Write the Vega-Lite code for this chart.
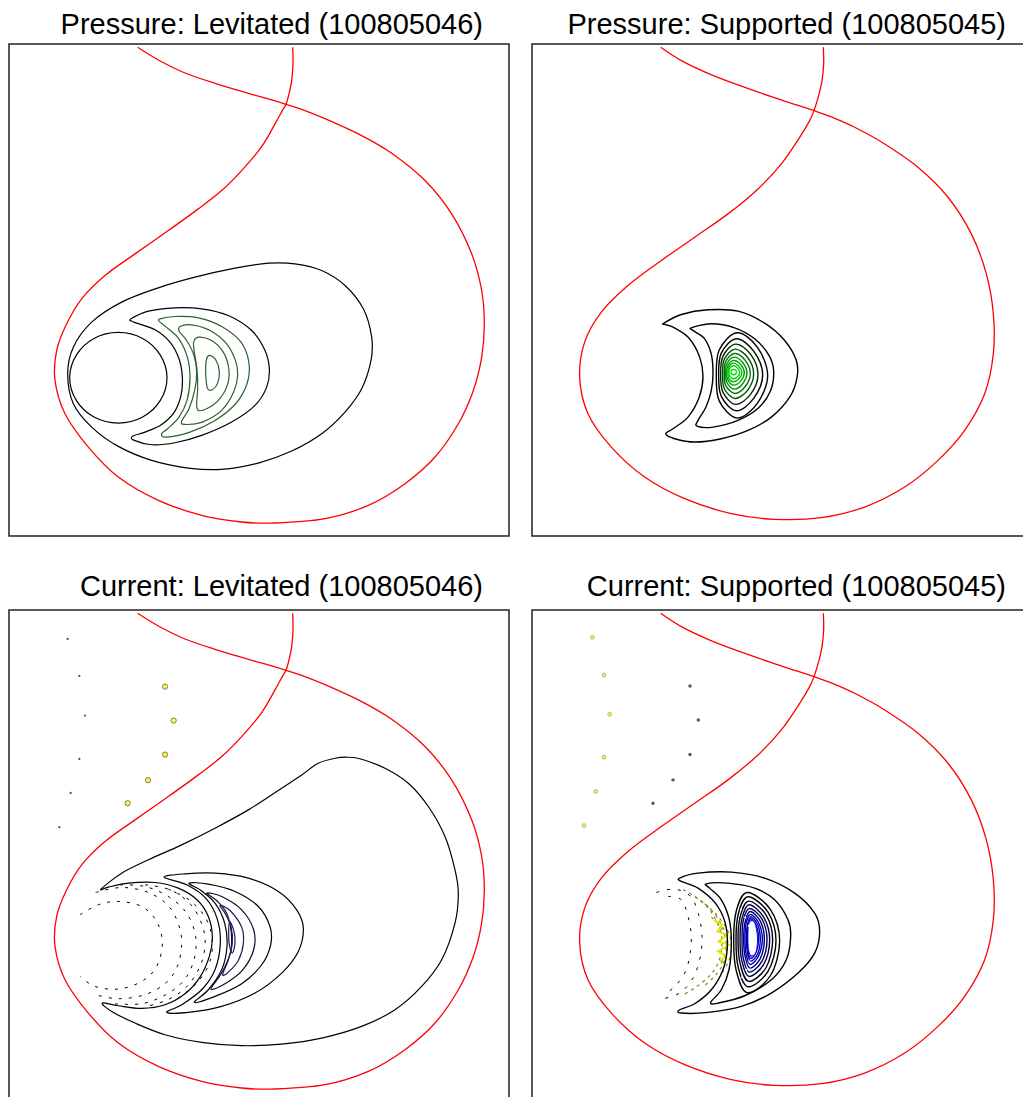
{
"$schema": "https://vega.github.io/schema/vega-lite/v6.json",
"background": "white",
"padding": {"left": 8, "top": 10, "right": 0, "bottom": 0},
"config": {"view": {"stroke": "#222", "strokeWidth": 1.5}, "title": {"font": "Liberation Sans", "fontSize": 29, "fontWeight": "normal", "color": "#000", "anchor": "end", "dx": -26}},
"spacing": 35,
"resolve": {"scale": {"color": "independent", "x": "independent", "y": "independent"}},
"datasets": {
"sepL": [{"x":388,"y":20},{"x":450,"y":58},{"x":530,"y":97},{"x":620,"y":128},{"x":720,"y":158},{"x":790,"y":178},{"x":833,"y":191},{"x":880,"y":206},{"x":950,"y":234},{"x":1050,"y":280},{"x":1150,"y":338},{"x":1250,"y":420},{"x":1330,"y":520},{"x":1390,"y":640},{"x":1420,"y":750},{"x":1428,"y":850},{"x":1420,"y":950},{"x":1395,"y":1050},{"x":1350,"y":1150},{"x":1280,"y":1250},{"x":1190,"y":1330},{"x":1080,"y":1395},{"x":950,"y":1435},{"x":800,"y":1448},{"x":700,"y":1445},{"x":580,"y":1425},{"x":450,"y":1380},{"x":330,"y":1310},{"x":240,"y":1220},{"x":170,"y":1120},{"x":140,"y":1020},{"x":145,"y":930},{"x":175,"y":850},{"x":220,"y":775},{"x":290,"y":705},{"x":380,"y":640},{"x":480,"y":570},{"x":570,"y":505},{"x":640,"y":450},{"x":700,"y":390},{"x":760,"y":318},{"x":800,"y":250},{"x":822,"y":210},{"x":833,"y":191},{"x":842,"y":160},{"x":850,"y":120},{"x":854,"y":70},{"x":853,"y":20}],
"sepR": [{"x":388,"y":20},{"x":450,"y":60},{"x":530,"y":98},{"x":620,"y":133},{"x":720,"y":168},{"x":800,"y":194},{"x":848,"y":210},{"x":900,"y":229},{"x":970,"y":260},{"x":1060,"y":310},{"x":1160,"y":380},{"x":1250,"y":470},{"x":1320,"y":580},{"x":1365,"y":700},{"x":1386,"y":820},{"x":1386,"y":940},{"x":1360,"y":1060},{"x":1300,"y":1170},{"x":1220,"y":1260},{"x":1120,"y":1340},{"x":1000,"y":1400},{"x":870,"y":1432},{"x":730,"y":1437},{"x":600,"y":1420},{"x":460,"y":1375},{"x":340,"y":1310},{"x":240,"y":1220},{"x":170,"y":1120},{"x":145,"y":1010},{"x":160,"y":905},{"x":210,"y":815},{"x":290,"y":735},{"x":390,"y":660},{"x":490,"y":590},{"x":590,"y":520},{"x":680,"y":445},{"x":750,"y":370},{"x":805,"y":290},{"x":835,"y":240},{"x":848,"y":210},{"x":862,"y":165},{"x":872,"y":120},{"x":877,"y":70},{"x":876,"y":20}],
"c1": [
{"id":"A","lev":0,"x":178,"y":1000},{"id":"A","lev":0,"x":195,"y":920},{"id":"A","lev":0,"x":250,"y":845},{"id":"A","lev":0,"x":340,"y":785},{"id":"A","lev":0,"x":450,"y":742},{"id":"A","lev":0,"x":560,"y":710},{"id":"A","lev":0,"x":680,"y":683},{"id":"A","lev":0,"x":780,"y":668},{"id":"A","lev":0,"x":860,"y":670},{"id":"A","lev":0,"x":940,"y":690},{"id":"A","lev":0,"x":1010,"y":735},{"id":"A","lev":0,"x":1065,"y":805},{"id":"A","lev":0,"x":1090,"y":890},{"id":"A","lev":0,"x":1088,"y":960},{"id":"A","lev":0,"x":1060,"y":1045},{"id":"A","lev":0,"x":1010,"y":1115},{"id":"A","lev":0,"x":940,"y":1180},{"id":"A","lev":0,"x":850,"y":1232},{"id":"A","lev":0,"x":750,"y":1268},{"id":"A","lev":0,"x":640,"y":1287},{"id":"A","lev":0,"x":540,"y":1283},{"id":"A","lev":0,"x":430,"y":1260},{"id":"A","lev":0,"x":330,"y":1218},{"id":"A","lev":0,"x":250,"y":1160},{"id":"A","lev":0,"x":195,"y":1090},
{"id":"B","lev":0,"x":476,"y":1012},{"id":"B","lev":0,"x":456,"y":944},{"id":"B","lev":0,"x":403,"y":894},{"id":"B","lev":0,"x":330,"y":876},{"id":"B","lev":0,"x":257,"y":894},{"id":"B","lev":0,"x":204,"y":944},{"id":"B","lev":0,"x":184,"y":1012},{"id":"B","lev":0,"x":204,"y":1080},{"id":"B","lev":0,"x":257,"y":1130},{"id":"B","lev":0,"x":330,"y":1148},{"id":"B","lev":0,"x":403,"y":1130},{"id":"B","lev":0,"x":456,"y":1080},
{"id":"C","lev":0,"x":368,"y":835},{"id":"C","lev":0,"x":420,"y":812},{"id":"C","lev":0,"x":500,"y":802},{"id":"C","lev":0,"x":580,"y":805},{"id":"C","lev":0,"x":660,"y":825},{"id":"C","lev":0,"x":730,"y":870},{"id":"C","lev":0,"x":770,"y":930},{"id":"C","lev":0,"x":783,"y":985},{"id":"C","lev":0,"x":775,"y":1040},{"id":"C","lev":0,"x":740,"y":1095},{"id":"C","lev":0,"x":670,"y":1145},{"id":"C","lev":0,"x":580,"y":1185},{"id":"C","lev":0,"x":500,"y":1207},{"id":"C","lev":0,"x":430,"y":1213},{"id":"C","lev":0,"x":378,"y":1200},{"id":"C","lev":0,"x":372,"y":1188},{"id":"C","lev":0,"x":410,"y":1175},{"id":"C","lev":0,"x":460,"y":1152},{"id":"C","lev":0,"x":498,"y":1115},{"id":"C","lev":0,"x":518,"y":1065},{"id":"C","lev":0,"x":522,"y":1010},{"id":"C","lev":0,"x":512,"y":955},{"id":"C","lev":0,"x":485,"y":905},{"id":"C","lev":0,"x":440,"y":868},{"id":"C","lev":0,"x":385,"y":848},{"id":"C","lev":0,"x":370,"y":842},
{"id":"D","lev":1,"x":455,"y":835},{"id":"D","lev":1,"x":500,"y":828},{"id":"D","lev":1,"x":570,"y":832},{"id":"D","lev":1,"x":640,"y":858},{"id":"D","lev":1,"x":698,"y":905},{"id":"D","lev":1,"x":722,"y":968},{"id":"D","lev":1,"x":716,"y":1030},{"id":"D","lev":1,"x":682,"y":1090},{"id":"D","lev":1,"x":620,"y":1140},{"id":"D","lev":1,"x":545,"y":1175},{"id":"D","lev":1,"x":472,"y":1190},{"id":"D","lev":1,"x":460,"y":1180},{"id":"D","lev":1,"x":478,"y":1165},{"id":"D","lev":1,"x":512,"y":1130},{"id":"D","lev":1,"x":536,"y":1080},{"id":"D","lev":1,"x":545,"y":1012},{"id":"D","lev":1,"x":537,"y":950},{"id":"D","lev":1,"x":510,"y":893},{"id":"D","lev":1,"x":470,"y":857},{"id":"D","lev":1,"x":453,"y":843},
{"id":"E","lev":1,"x":515,"y":858},{"id":"E","lev":1,"x":550,"y":853},{"id":"E","lev":1,"x":605,"y":870},{"id":"E","lev":1,"x":655,"y":910},{"id":"E","lev":1,"x":682,"y":962},{"id":"E","lev":1,"x":688,"y":1005},{"id":"E","lev":1,"x":676,"y":1055},{"id":"E","lev":1,"x":640,"y":1110},{"id":"E","lev":1,"x":582,"y":1145},{"id":"E","lev":1,"x":528,"y":1152},{"id":"E","lev":1,"x":520,"y":1142},{"id":"E","lev":1,"x":542,"y":1105},{"id":"E","lev":1,"x":560,"y":1045},{"id":"E","lev":1,"x":565,"y":995},{"id":"E","lev":1,"x":557,"y":945},{"id":"E","lev":1,"x":535,"y":900},{"id":"E","lev":1,"x":513,"y":873},
{"id":"F","lev":1,"x":570,"y":890},{"id":"F","lev":1,"x":610,"y":900},{"id":"F","lev":1,"x":645,"y":935},{"id":"F","lev":1,"x":662,"y":990},{"id":"F","lev":1,"x":655,"y":1040},{"id":"F","lev":1,"x":628,"y":1082},{"id":"F","lev":1,"x":595,"y":1105},{"id":"F","lev":1,"x":570,"y":1110},{"id":"F","lev":1,"x":565,"y":1090},{"id":"F","lev":1,"x":568,"y":1045},{"id":"F","lev":1,"x":566,"y":985},{"id":"F","lev":1,"x":558,"y":935},{"id":"F","lev":1,"x":556,"y":905},
{"id":"G","lev":1,"x":603,"y":945},{"id":"G","lev":1,"x":622,"y":958},{"id":"G","lev":1,"x":633,"y":992},{"id":"G","lev":1,"x":628,"y":1028},{"id":"G","lev":1,"x":612,"y":1048},{"id":"G","lev":1,"x":598,"y":1045},{"id":"G","lev":1,"x":593,"y":1015},{"id":"G","lev":1,"x":592,"y":978},{"id":"G","lev":1,"x":595,"y":955}
],
"c2": [
{"id":"K1","lev":0,"x":398,"y":848},{"id":"K1","lev":0,"x":450,"y":822},{"id":"K1","lev":0,"x":530,"y":808},{"id":"K1","lev":0,"x":620,"y":812},{"id":"K1","lev":0,"x":700,"y":848},{"id":"K1","lev":0,"x":760,"y":900},{"id":"K1","lev":0,"x":795,"y":960},{"id":"K1","lev":0,"x":797,"y":1012},{"id":"K1","lev":0,"x":775,"y":1070},{"id":"K1","lev":0,"x":720,"y":1130},{"id":"K1","lev":0,"x":650,"y":1170},{"id":"K1","lev":0,"x":570,"y":1195},{"id":"K1","lev":0,"x":490,"y":1205},{"id":"K1","lev":0,"x":430,"y":1195},{"id":"K1","lev":0,"x":403,"y":1180},{"id":"K1","lev":0,"x":425,"y":1165},{"id":"K1","lev":0,"x":470,"y":1130},{"id":"K1","lev":0,"x":503,"y":1072},{"id":"K1","lev":0,"x":515,"y":1010},{"id":"K1","lev":0,"x":505,"y":950},{"id":"K1","lev":0,"x":472,"y":892},{"id":"K1","lev":0,"x":425,"y":860},{"id":"K1","lev":0,"x":400,"y":852},
{"id":"K2","lev":0,"x":480,"y":862},{"id":"K2","lev":0,"x":540,"y":850},{"id":"K2","lev":0,"x":610,"y":862},{"id":"K2","lev":0,"x":670,"y":895},{"id":"K2","lev":0,"x":713,"y":945},{"id":"K2","lev":0,"x":727,"y":992},{"id":"K2","lev":0,"x":718,"y":1050},{"id":"K2","lev":0,"x":682,"y":1102},{"id":"K2","lev":0,"x":620,"y":1140},{"id":"K2","lev":0,"x":545,"y":1160},{"id":"K2","lev":0,"x":497,"y":1157},{"id":"K2","lev":0,"x":500,"y":1140},{"id":"K2","lev":0,"x":524,"y":1100},{"id":"K2","lev":0,"x":540,"y":1050},{"id":"K2","lev":0,"x":545,"y":1000},{"id":"K2","lev":0,"x":540,"y":942},{"id":"K2","lev":0,"x":520,"y":895},{"id":"K2","lev":0,"x":488,"y":872},
{"id":"N1","lev":0.15,"x":617,"y":877},{"id":"N1","lev":0.15,"x":678,"y":920},{"id":"N1","lev":0.15,"x":709,"y":1005},{"id":"N1","lev":0.15,"x":678,"y":1089},{"id":"N1","lev":0.15,"x":617,"y":1133},{"id":"N1","lev":0.15,"x":564,"y":1082},{"id":"N1","lev":0.15,"x":555,"y":1005},{"id":"N1","lev":0.15,"x":564,"y":928},
{"id":"N2","lev":0.3,"x":615,"y":895},{"id":"N2","lev":0.3,"x":667,"y":932},{"id":"N2","lev":0.3,"x":694,"y":1003},{"id":"N2","lev":0.3,"x":667,"y":1074},{"id":"N2","lev":0.3,"x":615,"y":1111},{"id":"N2","lev":0.3,"x":570,"y":1068},{"id":"N2","lev":0.3,"x":562,"y":1003},{"id":"N2","lev":0.3,"x":570,"y":938},
{"id":"N3","lev":0.43,"x":613,"y":911},{"id":"N3","lev":0.43,"x":658,"y":942},{"id":"N3","lev":0.43,"x":680,"y":1002},{"id":"N3","lev":0.43,"x":658,"y":1061},{"id":"N3","lev":0.43,"x":613,"y":1092},{"id":"N3","lev":0.43,"x":575,"y":1056},{"id":"N3","lev":0.43,"x":568,"y":1002},{"id":"N3","lev":0.43,"x":575,"y":947},
{"id":"N4","lev":0.55,"x":611,"y":926},{"id":"N4","lev":0.55,"x":649,"y":951},{"id":"N4","lev":0.55,"x":667,"y":1000},{"id":"N4","lev":0.55,"x":649,"y":1049},{"id":"N4","lev":0.55,"x":611,"y":1074},{"id":"N4","lev":0.55,"x":579,"y":1045},{"id":"N4","lev":0.55,"x":574,"y":1000},{"id":"N4","lev":0.55,"x":579,"y":956},
{"id":"N5","lev":0.65,"x":610,"y":939},{"id":"N5","lev":0.65,"x":641,"y":959},{"id":"N5","lev":0.65,"x":657,"y":999},{"id":"N5","lev":0.65,"x":641,"y":1039},{"id":"N5","lev":0.65,"x":610,"y":1059},{"id":"N5","lev":0.65,"x":583,"y":1035},{"id":"N5","lev":0.65,"x":579,"y":999},{"id":"N5","lev":0.65,"x":583,"y":963},
{"id":"N6","lev":0.74,"x":609,"y":950},{"id":"N6","lev":0.74,"x":634,"y":966},{"id":"N6","lev":0.74,"x":647,"y":998},{"id":"N6","lev":0.74,"x":634,"y":1030},{"id":"N6","lev":0.74,"x":609,"y":1046},{"id":"N6","lev":0.74,"x":587,"y":1027},{"id":"N6","lev":0.74,"x":583,"y":998},{"id":"N6","lev":0.74,"x":587,"y":969},
{"id":"N7","lev":0.82,"x":607,"y":960},{"id":"N7","lev":0.82,"x":628,"y":972},{"id":"N7","lev":0.82,"x":639,"y":997},{"id":"N7","lev":0.82,"x":628,"y":1022},{"id":"N7","lev":0.82,"x":607,"y":1034},{"id":"N7","lev":0.82,"x":590,"y":1020},{"id":"N7","lev":0.82,"x":586,"y":997},{"id":"N7","lev":0.82,"x":590,"y":975},
{"id":"N8","lev":0.89,"x":606,"y":968},{"id":"N8","lev":0.89,"x":623,"y":978},{"id":"N8","lev":0.89,"x":632,"y":996},{"id":"N8","lev":0.89,"x":623,"y":1015},{"id":"N8","lev":0.89,"x":606,"y":1024},{"id":"N8","lev":0.89,"x":592,"y":1013},{"id":"N8","lev":0.89,"x":590,"y":996},{"id":"N8","lev":0.89,"x":592,"y":980},
{"id":"N9","lev":0.95,"x":606,"y":976},{"id":"N9","lev":0.95,"x":619,"y":983},{"id":"N9","lev":0.95,"x":625,"y":996},{"id":"N9","lev":0.95,"x":619,"y":1009},{"id":"N9","lev":0.95,"x":606,"y":1015},{"id":"N9","lev":0.95,"x":595,"y":1007},{"id":"N9","lev":0.95,"x":593,"y":996},{"id":"N9","lev":0.95,"x":595,"y":984},
{"id":"N10","lev":1,"x":615,"y":995},{"id":"N10","lev":1,"x":613,"y":1001},{"id":"N10","lev":1,"x":607,"y":1003},{"id":"N10","lev":1,"x":601,"y":1001},{"id":"N10","lev":1,"x":599,"y":995},{"id":"N10","lev":1,"x":601,"y":989},{"id":"N10","lev":1,"x":607,"y":987},{"id":"N10","lev":1,"x":613,"y":989}
],
"c3": [
{"id":"B","lev":0,"x":278,"y":848},{"id":"B","lev":0,"x":340,"y":800},{"id":"B","lev":0,"x":420,"y":760},{"id":"B","lev":0,"x":520,"y":715},{"id":"B","lev":0,"x":620,"y":665},{"id":"B","lev":0,"x":720,"y":610},{"id":"B","lev":0,"x":820,"y":545},{"id":"B","lev":0,"x":880,"y":505},{"id":"B","lev":0,"x":930,"y":470},{"id":"B","lev":0,"x":980,"y":455},{"id":"B","lev":0,"x":1020,"y":452},{"id":"B","lev":0,"x":1060,"y":458},{"id":"B","lev":0,"x":1130,"y":485},{"id":"B","lev":0,"x":1200,"y":530},{"id":"B","lev":0,"x":1260,"y":600},{"id":"B","lev":0,"x":1310,"y":690},{"id":"B","lev":0,"x":1340,"y":790},{"id":"B","lev":0,"x":1350,"y":860},{"id":"B","lev":0,"x":1340,"y":950},{"id":"B","lev":0,"x":1300,"y":1060},{"id":"B","lev":0,"x":1240,"y":1140},{"id":"B","lev":0,"x":1160,"y":1210},{"id":"B","lev":0,"x":1060,"y":1260},{"id":"B","lev":0,"x":940,"y":1295},{"id":"B","lev":0,"x":820,"y":1313},{"id":"B","lev":0,"x":700,"y":1318},{"id":"B","lev":0,"x":580,"y":1308},{"id":"B","lev":0,"x":470,"y":1285},{"id":"B","lev":0,"x":380,"y":1250},{"id":"B","lev":0,"x":310,"y":1215},{"id":"B","lev":0,"x":282,"y":1190},{"id":"B","lev":0,"x":330,"y":1198},{"id":"B","lev":0,"x":400,"y":1206},{"id":"B","lev":0,"x":470,"y":1195},{"id":"B","lev":0,"x":530,"y":1162},{"id":"B","lev":0,"x":575,"y":1112},{"id":"B","lev":0,"x":603,"y":1050},{"id":"B","lev":0,"x":612,"y":990},{"id":"B","lev":0,"x":600,"y":930},{"id":"B","lev":0,"x":566,"y":880},{"id":"B","lev":0,"x":510,"y":845},{"id":"B","lev":0,"x":440,"y":828},{"id":"B","lev":0,"x":360,"y":830},{"id":"B","lev":0,"x":300,"y":842},
{"id":"C2","lev":0,"x":467,"y":812},{"id":"C2","lev":0,"x":530,"y":802},{"id":"C2","lev":0,"x":620,"y":800},{"id":"C2","lev":0,"x":720,"y":815},{"id":"C2","lev":0,"x":810,"y":855},{"id":"C2","lev":0,"x":865,"y":910},{"id":"C2","lev":0,"x":885,"y":965},{"id":"C2","lev":0,"x":870,"y":1035},{"id":"C2","lev":0,"x":820,"y":1100},{"id":"C2","lev":0,"x":740,"y":1160},{"id":"C2","lev":0,"x":640,"y":1200},{"id":"C2","lev":0,"x":540,"y":1218},{"id":"C2","lev":0,"x":475,"y":1218},{"id":"C2","lev":0,"x":520,"y":1195},{"id":"C2","lev":0,"x":580,"y":1150},{"id":"C2","lev":0,"x":620,"y":1090},{"id":"C2","lev":0,"x":636,"y":1010},{"id":"C2","lev":0,"x":626,"y":935},{"id":"C2","lev":0,"x":592,"y":875},{"id":"C2","lev":0,"x":535,"y":835},
{"id":"C3","lev":0,"x":542,"y":830},{"id":"C3","lev":0,"x":600,"y":833},{"id":"C3","lev":0,"x":680,"y":855},{"id":"C3","lev":0,"x":750,"y":900},{"id":"C3","lev":0,"x":785,"y":960},{"id":"C3","lev":0,"x":787,"y":1015},{"id":"C3","lev":0,"x":760,"y":1075},{"id":"C3","lev":0,"x":700,"y":1132},{"id":"C3","lev":0,"x":620,"y":1170},{"id":"C3","lev":0,"x":558,"y":1188},{"id":"C3","lev":0,"x":600,"y":1150},{"id":"C3","lev":0,"x":640,"y":1090},{"id":"C3","lev":0,"x":656,"y":1020},{"id":"C3","lev":0,"x":649,"y":950},{"id":"C3","lev":0,"x":620,"y":890},{"id":"C3","lev":0,"x":578,"y":852},
{"id":"C4","lev":0.5,"x":595,"y":860},{"id":"C4","lev":0.5,"x":640,"y":870},{"id":"C4","lev":0.5,"x":700,"y":910},{"id":"C4","lev":0.5,"x":736,"y":970},{"id":"C4","lev":0.5,"x":736,"y":1030},{"id":"C4","lev":0.5,"x":702,"y":1092},{"id":"C4","lev":0.5,"x":650,"y":1132},{"id":"C4","lev":0.5,"x":608,"y":1148},{"id":"C4","lev":0.5,"x":640,"y":1100},{"id":"C4","lev":0.5,"x":666,"y":1040},{"id":"C4","lev":0.5,"x":669,"y":980},{"id":"C4","lev":0.5,"x":655,"y":920},{"id":"C4","lev":0.5,"x":625,"y":882},
{"id":"C5","lev":1,"x":635,"y":897},{"id":"C5","lev":1,"x":665,"y":912},{"id":"C5","lev":1,"x":700,"y":962},{"id":"C5","lev":1,"x":705,"y":1012},{"id":"C5","lev":1,"x":690,"y":1062},{"id":"C5","lev":1,"x":660,"y":1097},{"id":"C5","lev":1,"x":643,"y":1105},{"id":"C5","lev":1,"x":660,"y":1060},{"id":"C5","lev":1,"x":672,"y":1010},{"id":"C5","lev":1,"x":668,"y":960},{"id":"C5","lev":1,"x":650,"y":920},
{"id":"C6","lev":1,"x":664,"y":945},{"id":"C6","lev":1,"x":677,"y":975},{"id":"C6","lev":1,"x":680,"y":1010},{"id":"C6","lev":1,"x":672,"y":1040},{"id":"C6","lev":1,"x":663,"y":1015},{"id":"C6","lev":1,"x":661,"y":975}
],
"d3": [
{"id":"a1","x":215,"y":925},{"id":"a1","x":270,"y":895},{"id":"a1","x":330,"y":885},{"id":"a1","x":400,"y":900},{"id":"a1","x":445,"y":945},{"id":"a1","x":462,"y":1010},{"id":"a1","x":445,"y":1080},{"id":"a1","x":400,"y":1125},{"id":"a1","x":330,"y":1148},{"id":"a1","x":260,"y":1140},{"id":"a1","x":215,"y":1110},
{"id":"a2","x":262,"y":858},{"id":"a2","x":340,"y":843},{"id":"a2","x":420,"y":858},{"id":"a2","x":480,"y":898},{"id":"a2","x":512,"y":958},{"id":"a2","x":520,"y":1015},{"id":"a2","x":507,"y":1080},{"id":"a2","x":472,"y":1130},{"id":"a2","x":410,"y":1165},{"id":"a2","x":330,"y":1177},{"id":"a2","x":262,"y":1165},
{"id":"a3","x":335,"y":835},{"id":"a3","x":410,"y":840},{"id":"a3","x":480,"y":870},{"id":"a3","x":535,"y":920},{"id":"a3","x":562,"y":990},{"id":"a3","x":557,"y":1060},{"id":"a3","x":527,"y":1122},{"id":"a3","x":472,"y":1165},{"id":"a3","x":400,"y":1192},{"id":"a3","x":320,"y":1192},
{"id":"a4","x":410,"y":835},{"id":"a4","x":485,"y":850},{"id":"a4","x":548,"y":895},{"id":"a4","x":583,"y":960},{"id":"a4","x":590,"y":1020},{"id":"a4","x":574,"y":1082},{"id":"a4","x":534,"y":1142},{"id":"a4","x":474,"y":1182},{"id":"a4","x":405,"y":1202},
{"id":"a5","x":480,"y":848},{"id":"a5","x":545,"y":882},{"id":"a5","x":592,"y":935},{"id":"a5","x":612,"y":1000},{"id":"a5","x":603,"y":1070},{"id":"a5","x":565,"y":1130},{"id":"a5","x":505,"y":1178}
],
"c4": [
{"id":"K1","lev":0,"x":445,"y":815},{"id":"K1","lev":0,"x":500,"y":800},{"id":"K1","lev":0,"x":600,"y":797},{"id":"K1","lev":0,"x":700,"y":815},{"id":"K1","lev":0,"x":790,"y":860},{"id":"K1","lev":0,"x":850,"y":920},{"id":"K1","lev":0,"x":865,"y":975},{"id":"K1","lev":0,"x":850,"y":1040},{"id":"K1","lev":0,"x":800,"y":1100},{"id":"K1","lev":0,"x":720,"y":1160},{"id":"K1","lev":0,"x":630,"y":1200},{"id":"K1","lev":0,"x":530,"y":1218},{"id":"K1","lev":0,"x":450,"y":1220},{"id":"K1","lev":0,"x":445,"y":1210},{"id":"K1","lev":0,"x":490,"y":1192},{"id":"K1","lev":0,"x":540,"y":1150},{"id":"K1","lev":0,"x":575,"y":1090},{"id":"K1","lev":0,"x":588,"y":1020},{"id":"K1","lev":0,"x":582,"y":950},{"id":"K1","lev":0,"x":552,"y":890},{"id":"K1","lev":0,"x":500,"y":845},{"id":"K1","lev":0,"x":450,"y":825},
{"id":"K2","lev":0,"x":525,"y":832},{"id":"K2","lev":0,"x":590,"y":830},{"id":"K2","lev":0,"x":670,"y":845},{"id":"K2","lev":0,"x":730,"y":880},{"id":"K2","lev":0,"x":770,"y":940},{"id":"K2","lev":0,"x":778,"y":990},{"id":"K2","lev":0,"x":765,"y":1060},{"id":"K2","lev":0,"x":720,"y":1120},{"id":"K2","lev":0,"x":640,"y":1168},{"id":"K2","lev":0,"x":560,"y":1190},{"id":"K2","lev":0,"x":538,"y":1188},{"id":"K2","lev":0,"x":570,"y":1150},{"id":"K2","lev":0,"x":593,"y":1090},{"id":"K2","lev":0,"x":600,"y":1010},{"id":"K2","lev":0,"x":594,"y":940},{"id":"K2","lev":0,"x":570,"y":880},{"id":"K2","lev":0,"x":535,"y":845},
{"id":"M1","lev":0.12,"x":648,"y":858},{"id":"M1","lev":0.12,"x":717,"y":909},{"id":"M1","lev":0.12,"x":745,"y":1004},{"id":"M1","lev":0.12,"x":717,"y":1108},{"id":"M1","lev":0.12,"x":648,"y":1159},{"id":"M1","lev":0.12,"x":615,"y":1094},{"id":"M1","lev":0.12,"x":607,"y":1004},{"id":"M1","lev":0.12,"x":615,"y":913},
{"id":"M2","lev":0.25,"x":650,"y":871},{"id":"M2","lev":0.25,"x":710,"y":917},{"id":"M2","lev":0.25,"x":734,"y":1003},{"id":"M2","lev":0.25,"x":710,"y":1095},{"id":"M2","lev":0.25,"x":650,"y":1141},{"id":"M2","lev":0.25,"x":621,"y":1084},{"id":"M2","lev":0.25,"x":614,"y":1003},{"id":"M2","lev":0.25,"x":621,"y":922},
{"id":"M3","lev":0.37,"x":652,"y":884},{"id":"M3","lev":0.37,"x":704,"y":925},{"id":"M3","lev":0.37,"x":724,"y":1001},{"id":"M3","lev":0.37,"x":704,"y":1084},{"id":"M3","lev":0.37,"x":652,"y":1125},{"id":"M3","lev":0.37,"x":627,"y":1074},{"id":"M3","lev":0.37,"x":620,"y":1001},{"id":"M3","lev":0.37,"x":627,"y":929},
{"id":"M4","lev":0.48,"x":653,"y":895},{"id":"M4","lev":0.48,"x":697,"y":932},{"id":"M4","lev":0.48,"x":715,"y":1000},{"id":"M4","lev":0.48,"x":697,"y":1074},{"id":"M4","lev":0.48,"x":653,"y":1110},{"id":"M4","lev":0.48,"x":632,"y":1065},{"id":"M4","lev":0.48,"x":626,"y":1000},{"id":"M4","lev":0.48,"x":632,"y":936},
{"id":"M5","lev":0.58,"x":654,"y":906},{"id":"M5","lev":0.58,"x":692,"y":938},{"id":"M5","lev":0.58,"x":707,"y":999},{"id":"M5","lev":0.58,"x":692,"y":1064},{"id":"M5","lev":0.58,"x":654,"y":1097},{"id":"M5","lev":0.58,"x":636,"y":1056},{"id":"M5","lev":0.58,"x":632,"y":999},{"id":"M5","lev":0.58,"x":636,"y":942},
{"id":"M6","lev":0.67,"x":656,"y":915},{"id":"M6","lev":0.67,"x":687,"y":944},{"id":"M6","lev":0.67,"x":699,"y":998},{"id":"M6","lev":0.67,"x":687,"y":1056},{"id":"M6","lev":0.67,"x":656,"y":1085},{"id":"M6","lev":0.67,"x":641,"y":1049},{"id":"M6","lev":0.67,"x":637,"y":998},{"id":"M6","lev":0.67,"x":641,"y":948},
{"id":"M7","lev":0.75,"x":657,"y":924},{"id":"M7","lev":0.75,"x":682,"y":949},{"id":"M7","lev":0.75,"x":693,"y":998},{"id":"M7","lev":0.75,"x":682,"y":1048},{"id":"M7","lev":0.75,"x":657,"y":1074},{"id":"M7","lev":0.75,"x":644,"y":1042},{"id":"M7","lev":0.75,"x":641,"y":998},{"id":"M7","lev":0.75,"x":644,"y":952},
{"id":"M8","lev":0.82,"x":658,"y":931},{"id":"M8","lev":0.82,"x":679,"y":954},{"id":"M8","lev":0.82,"x":687,"y":997},{"id":"M8","lev":0.82,"x":679,"y":1042},{"id":"M8","lev":0.82,"x":658,"y":1064},{"id":"M8","lev":0.82,"x":648,"y":1037},{"id":"M8","lev":0.82,"x":645,"y":997},{"id":"M8","lev":0.82,"x":648,"y":957},
{"id":"M9","lev":0.88,"x":658,"y":937},{"id":"M9","lev":0.88,"x":675,"y":958},{"id":"M9","lev":0.88,"x":682,"y":996},{"id":"M9","lev":0.88,"x":675,"y":1036},{"id":"M9","lev":0.88,"x":658,"y":1056},{"id":"M9","lev":0.88,"x":650,"y":1032},{"id":"M9","lev":0.88,"x":648,"y":996},{"id":"M9","lev":0.88,"x":650,"y":961},
{"id":"M10","lev":0.93,"x":659,"y":943},{"id":"M10","lev":0.93,"x":672,"y":961},{"id":"M10","lev":0.93,"x":678,"y":996},{"id":"M10","lev":0.93,"x":672,"y":1031},{"id":"M10","lev":0.93,"x":659,"y":1049},{"id":"M10","lev":0.93,"x":653,"y":1028},{"id":"M10","lev":0.93,"x":651,"y":996},{"id":"M10","lev":0.93,"x":653,"y":964}
],
"d4k": [
{"id":"k1","x":375,"y":858},{"id":"k1","x":430,"y":848},{"id":"k1","x":478,"y":870},{"id":"k1","x":502,"y":925},{"id":"k1","x":512,"y":990},{"id":"k1","x":506,"y":1055},{"id":"k1","x":485,"y":1115},{"id":"k1","x":445,"y":1160},{"id":"k1","x":392,"y":1178},
{"id":"k2","x":410,"y":870},{"id":"k2","x":450,"y":880},{"id":"k2","x":470,"y":930},{"id":"k2","x":480,"y":990},{"id":"k2","x":475,"y":1050},{"id":"k2","x":460,"y":1100},{"id":"k2","x":430,"y":1140},{"id":"k2","x":400,"y":1165}
],
"d4y": [
{"id":"y1","x":455,"y":850},{"id":"y1","x":505,"y":880},{"id":"y1","x":545,"y":925},{"id":"y1","x":570,"y":985},{"id":"y1","x":567,"y":1050},{"id":"y1","x":542,"y":1100},{"id":"y1","x":497,"y":1140},{"id":"y1","x":450,"y":1168},
{"id":"y2","x":490,"y":870},{"id":"y2","x":535,"y":905},{"id":"y2","x":568,"y":950},{"id":"y2","x":588,"y":1000},{"id":"y2","x":583,"y":1055},{"id":"y2","x":558,"y":1100},{"id":"y2","x":520,"y":1138},
{"id":"y3","x":520,"y":892},{"id":"y3","x":558,"y":927},{"id":"y3","x":588,"y":970},{"id":"y3","x":600,"y":1012},{"id":"y3","x":593,"y":1062},{"id":"y3","x":570,"y":1102},
{"id":"y4","x":540,"y":932},{"id":"y4","x":568,"y":962},{"id":"y4","x":584,"y":1002},{"id":"y4","x":581,"y":1045},{"id":"y4","x":565,"y":1078}
],
"z4": [{"x":548,"y":940},{"x":572,"y":955},{"x":558,"y":975},{"x":588,"y":985},{"x":562,"y":1005},{"x":592,"y":1015},{"x":560,"y":1035},{"x":585,"y":1048},{"x":565,"y":1065}],
"w4lens": [{"x":662,"y":950},{"x":668,"y":970},{"x":671,"y":1000},{"x":668,"y":1030},{"x":662,"y":1040},{"x":658,"y":1020},{"x":657,"y":995},{"x":658,"y":965}],
"w4arc": [{"x":597,"y":862},{"x":622,"y":900},{"x":645,"y":940},{"x":660,"y":985},{"x":660,"y":1030},{"x":650,"y":1080},{"x":632,"y":1112},{"x":610,"y":1140}],
"m3k": [{"x":178,"y":97},{"x":213,"y":208},{"x":230,"y":327},{"x":213,"y":457},{"x":187,"y":559},{"x":153,"y":662}],
"m3y": [{"x":470,"y":240},{"x":496,"y":342},{"x":470,"y":444},{"x":419,"y":521},{"x":358,"y":590}],
"m4y": [{"x":183,"y":92},{"x":218,"y":205},{"x":235,"y":323},{"x":218,"y":452},{"x":193,"y":555},{"x":158,"y":657}],
"m4k": [{"x":476,"y":238},{"x":501,"y":340},{"x":476,"y":444},{"x":425,"y":520},{"x":365,"y":590}]
},
"vconcat": [
{"resolve": {"scale": {"color": "independent", "x": "independent", "y": "independent"}}, "hconcat": [
{"title": {"text": "Pressure: Levitated (100805046)", "offset": 4}, "width": 500, "height": 492,
"encoding": {"x": {"field": "x", "type": "quantitative", "scale": {"domain": [2, 1502], "nice": false, "zero": false}, "axis": null}, "y": {"field": "y", "type": "quantitative", "scale": {"domain": [10, 1487], "nice": false, "zero": false, "reverse": true}, "axis": null}, "order": {"value": null}},
"layer": [
{"data": {"name": "c1"}, "mark": {"type": "line", "interpolate": "cardinal-closed", "strokeWidth": 1.2}, "encoding": {"detail": {"field": "id", "type": "nominal"}, "color": {"field": "lev", "type": "quantitative", "scale": {"domain": [0, 1], "range": ["#000000", "#2f5f2f"], "interpolate": "rgb"}, "legend": null}}},
{"data": {"name": "sepL"}, "mark": {"type": "line", "interpolate": "cardinal", "color": "#ff0000", "strokeWidth": 1.3}}
]},
{"title": {"text": "Pressure: Supported (100805045)", "offset": 4}, "width": 500, "height": 492,
"encoding": {"x": {"field": "x", "type": "quantitative", "scale": {"domain": [2, 1502], "nice": false, "zero": false}, "axis": null}, "y": {"field": "y", "type": "quantitative", "scale": {"domain": [10, 1487], "nice": false, "zero": false, "reverse": true}, "axis": null}, "order": {"value": null}},
"layer": [
{"data": {"name": "c2"}, "mark": {"type": "line", "interpolate": "cardinal-closed", "strokeWidth": 1.4}, "encoding": {"detail": {"field": "id", "type": "nominal"}, "color": {"field": "lev", "type": "quantitative", "scale": {"domain": [0.3, 1], "clamp": true, "range": ["#000000", "#00e000"], "interpolate": "rgb"}, "legend": null}}},
{"data": {"name": "sepR"}, "mark": {"type": "line", "interpolate": "cardinal", "color": "#ff0000", "strokeWidth": 1.3}}
]}
], "spacing": 21},
{"resolve": {"scale": {"color": "independent", "x": "independent", "y": "independent"}}, "hconcat": [
{"title": {"text": "Current: Levitated (100805046)", "offset": 8}, "width": 500, "height": 492,
"encoding": {"x": {"field": "x", "type": "quantitative", "scale": {"domain": [2, 1502], "nice": false, "zero": false}, "axis": null}, "y": {"field": "y", "type": "quantitative", "scale": {"domain": [10, 1487], "nice": false, "zero": false, "reverse": true}, "axis": null}, "order": {"value": null}},
"layer": [
{"data": {"name": "d3"}, "mark": {"type": "line", "interpolate": "cardinal", "color": "#000000", "strokeWidth": 1, "strokeDash": [3, 7]}, "encoding": {"detail": {"field": "id", "type": "nominal"}}},
{"data": {"name": "c3"}, "mark": {"type": "line", "interpolate": "cardinal-closed", "strokeWidth": 1.2}, "encoding": {"detail": {"field": "id", "type": "nominal"}, "color": {"field": "lev", "type": "quantitative", "scale": {"domain": [0, 1], "range": ["#000000", "#1c1c5a"], "interpolate": "rgb"}, "legend": null}}},
{"data": {"name": "sepL"}, "mark": {"type": "line", "interpolate": "cardinal", "color": "#ff0000", "strokeWidth": 1.3}},
{"data": {"name": "m3k"}, "mark": {"type": "point", "filled": true, "color": "#000000", "size": 5}},
{"data": {"name": "m3y"}, "mark": {"type": "point", "filled": true, "fill": "#ffee00", "stroke": "#222200", "strokeWidth": 0.8, "size": 28}}
]},
{"title": {"text": "Current: Supported (100805045)", "offset": 8}, "width": 500, "height": 492,
"encoding": {"x": {"field": "x", "type": "quantitative", "scale": {"domain": [2, 1502], "nice": false, "zero": false}, "axis": null}, "y": {"field": "y", "type": "quantitative", "scale": {"domain": [10, 1487], "nice": false, "zero": false, "reverse": true}, "axis": null}, "order": {"value": null}},
"layer": [
{"data": {"name": "d4k"}, "mark": {"type": "line", "interpolate": "cardinal", "color": "#000000", "strokeWidth": 1, "strokeDash": [3, 8]}, "encoding": {"detail": {"field": "id", "type": "nominal"}}},
{"data": {"name": "d4y"}, "mark": {"type": "line", "interpolate": "cardinal", "color": "#8a8a10", "strokeWidth": 1.2, "strokeDash": [3, 4]}, "encoding": {"detail": {"field": "id", "type": "nominal"}}},
{"data": {"name": "z4"}, "mark": {"type": "line", "interpolate": "linear", "color": "#e6e600", "strokeWidth": 2}},
{"data": {"name": "c4"}, "mark": {"type": "line", "interpolate": "cardinal-closed", "strokeWidth": 1.4}, "encoding": {"detail": {"field": "id", "type": "nominal"}, "color": {"field": "lev", "type": "quantitative", "scale": {"domain": [0.3, 1], "clamp": true, "range": ["#000000", "#0000ff"], "interpolate": "rgb"}, "legend": null}}},
{"data": {"name": "w4lens"}, "mark": {"type": "line", "interpolate": "cardinal-closed", "color": "#ffffff", "strokeWidth": 4}},
{"data": {"name": "w4arc"}, "mark": {"type": "line", "interpolate": "cardinal", "color": "#ffffff", "strokeWidth": 1.5, "strokeDash": [2, 7]}},
{"data": {"name": "sepR"}, "mark": {"type": "line", "interpolate": "cardinal", "color": "#ff0000", "strokeWidth": 1.3}},
{"data": {"name": "m4k"}, "mark": {"type": "point", "filled": true, "color": "#111111", "size": 12}},
{"data": {"name": "m4y"}, "mark": {"type": "point", "filled": true, "fill": "#ffee00", "stroke": "#555500", "strokeWidth": 0.6, "size": 14}}
]}
], "spacing": 21}
]
}
